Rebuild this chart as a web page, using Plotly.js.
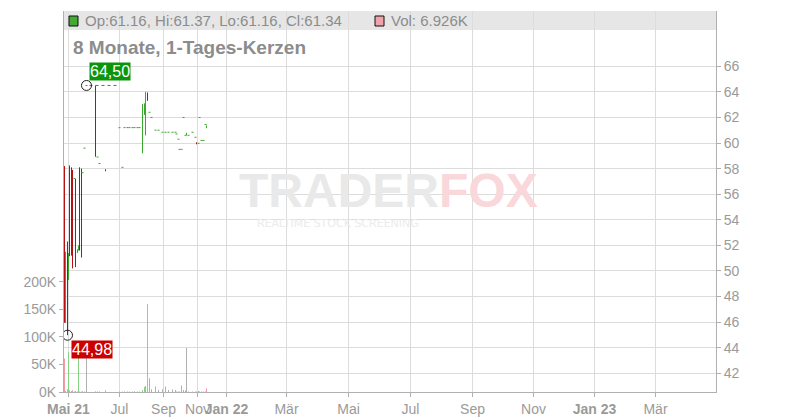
<!DOCTYPE html>
<html><head><meta charset="utf-8">
<script src="https://cdn.plot.ly/plotly-3.0.1.min.js"></script>
<style>html,body{margin:0;padding:0;background:#fff}#chart{width:800px;height:420px}</style>
</head><body><div id="chart"></div>
<script>
// bar slot positions (chart position units along the compressed time axis)
const barPos = [0,1,3,4,5,7,8,10,11,13,14,15,17,18,20,22,31,33,35,41,55,58,60,63,65,68,70,73,75,78,80,81,83,85,87,91,94,98,101,104,108,111,112,114,115,117,119,121,122,124,128,131,132,134,135,137,139,141,142];
const open  = [58.2,45.95,52.3,49.5,58.25,58.1,57.9,57.2,57.2,51.4,51.6,58.1,58.0,57.65,59.58,64.5,64.5,58.88,58.38,57.95,61.18,58.08,61.2,61.2,61.2,61.2,61.2,61.2,61.2,59.2,62.2,60.6,63.9,62.4,62.0,61.0,61.0,60.84,60.84,60.84,60.84,60.84,60.7,60.28,59.5,59.5,61.98,60.6,60.6,60.6,60.84,60.43,60.05,59.98,61.98,60.2,60.2,61.43,61.16];
const high  = [58.2,51.5,52.3,51.4,58.25,58.1,57.9,57.25,57.2,51.7,52.0,58.1,58.0,57.7,59.62,64.5,64.5,58.93,58.42,57.95,61.22,58.12,61.21,61.21,61.21,61.21,61.21,61.21,61.21,63.05,63.1,64.0,63.95,62.41,62.01,61.01,61.01,60.85,60.85,60.85,60.85,60.85,60.71,60.32,59.51,59.51,62.02,60.61,60.8,60.61,60.85,60.47,60.05,59.99,62.02,60.21,60.21,61.47,61.37];
const low   = [45.95,45.95,44.98,49.3,51.15,51.2,50.2,57.2,50.3,51.4,51.6,51.6,51.05,57.65,59.58,64.5,58.93,58.88,58.38,57.8,61.18,58.08,61.2,61.2,61.2,61.2,61.2,61.2,61.2,59.2,62.2,60.6,63.3,62.4,62.0,61.0,61.0,60.84,60.84,60.84,60.84,60.84,60.7,60.28,59.5,59.5,61.98,60.6,60.6,60.6,60.84,60.43,59.9,59.98,61.98,60.2,60.2,61.43,61.16];
const close = [45.95,51.5,45.3,51.4,51.15,51.2,50.2,57.25,50.3,51.7,52.0,51.6,51.05,57.7,59.62,64.5,58.93,58.93,58.42,57.8,61.22,58.12,61.21,61.21,61.21,61.21,61.21,61.21,61.21,63.05,63.1,64.0,63.3,62.41,62.01,61.01,61.01,60.85,60.85,60.85,60.85,60.85,60.71,60.32,59.51,59.51,62.02,60.61,60.61,60.61,60.85,60.47,59.9,59.99,62.02,60.21,60.21,61.47,61.34];
const volume= [61000,2000,5000,72000,3000,2000,3000,1000,2000,1000,70000,1000,1000,1500,1000,61000,1500,1000,1000,3000,1000,1000,1000,1000,1000,1000,1200,1000,1000,3500,9000,11000,160000,25000,5000,10000,3500,5000,10000,3500,4500,3500,1000,1000,1000,12000,3500,2500,80000,1000,1000,1000,1000,2000,1000,1000,1000,1000,6926];

const tickPos = [4, 55, 99, 133, 162, 222, 284, 346, 408, 469, 530, 591];
const tickLabels = ['<b>Mai 21</b>','Jul','Sep','Nov','<b>Jan 22</b>','Mär','Mai','Jul','Sep','Nov','<b>Jan 23</b>','Mär'];
const priceTicks = [42,44,46,48,50,52,54,56,58,60,62,64,66];
const volTicks = [0,50000,100000,150000,200000];
const volTickLabels = ['0K','50K','100K','150K','200K'];

const title = '8 Monate, 1-Tages-Kerzen';

const FONT = 'Liberation Sans, Arial, sans-serif';
const UP = '#38a82a', DOWN = '#b81010';
const PRICE_RANGE = [40.54, 70.32];
const FLAT = 0.08; // candles whose body is under ~1px are drawn as short dashes

// volume colours: flat candle -> grey, otherwise by change vs previous close
const volColors = volume.map((v, i) => {
  if (Math.abs(close[i] - open[i]) < 0.015) return '#b0b0b0';
  const ref = i === 0 ? open[i] : close[i - 1];
  return close[i] >= ref ? '#86d180' : '#f29aa5';
});

// build candle segments from the OHLC arrays
function segs(up, flat) {
  const xs = [], ys = [];
  barPos.forEach((x, i) => {
    const isUp = close[i] >= open[i];
    const isFlat = Math.abs(close[i] - open[i]) < FLAT && (high[i] - low[i]) < FLAT;
    if (isUp !== up || isFlat !== flat) return;
    if (flat) {
      const m = (open[i] + close[i]) / 2;
      xs.push(x - 1, x + 1, null); ys.push(m, m, null);
    } else {
      xs.push(x, x, null); ys.push(low[i], high[i], null);
    }
  });
  return {xs, ys};
}
const candleTraces = [];
[[true,false],[false,false],[true,true],[false,true]].forEach(([up, flat]) => {
  const s = segs(up, flat);
  candleTraces.push({type:'scatter', mode:'lines', x:s.xs, y:s.ys, yaxis:'y',
    line:{color: up ? UP : DOWN, width:1}, hoverinfo:'none', connectgaps:false});
});

const n = close.length - 1;
const fmt = v => v.toFixed(2);
const fmtDe = v => v.toFixed(2).replace('.', ',');

let hiIdx = 0, loIdx = 0;
high.forEach((h, i) => { if (h > high[hiIdx]) hiIdx = i; });
low.forEach((l, i) => { if (l < low[loIdx]) loIdx = i; });

const traces = [
  {type:'bar', x:barPos, y:volume, yaxis:'y2', width:1,
   marker:{color:volColors, line:{width:0}}, hoverinfo:'none'}
].concat(candleTraces);

const pxX = p => (p - 64) / 652;
const pxY = p => (392 - p) / 381;

const axisCommon = {showline:true, linecolor:'#b0b0b0', ticks:'outside', ticklen:4, tickcolor:'#b0b0b0',
  zeroline:false, fixedrange:true, tickfont:{family:FONT, size:14, color:'#9a9a9a'}};

const layout = {
  width:800, height:420,
  margin:{l:64, r:84, t:11, b:28},
  paper_bgcolor:'#fff', plot_bgcolor:'rgba(0,0,0,0)',
  showlegend:false,
  font:{family:FONT, size:14, color:'#999'},
  xaxis:Object.assign({}, axisCommon, {type:'linear', range:[-0.5,651.5], tickvals:tickPos, ticktext:tickLabels, tickangle:0,
    showgrid:true, gridcolor:'#dcdcdc', gridwidth:1}),
  yaxis:Object.assign({}, axisCommon, {side:'right', range:PRICE_RANGE, tickvals:priceTicks,
    showgrid:true, gridcolor:'#dcdcdc'}),
  yaxis2:Object.assign({}, axisCommon, {side:'left', overlaying:'y', range:[0,692000], tickvals:volTicks, ticktext:volTickLabels,
    showgrid:false}),
  shapes:[
    {type:'rect', xref:'paper', yref:'paper', x0:0, x1:1, y0:pxY(30), y1:1, layer:'below',
     fillcolor:'#e6e6e6', line:{width:0}},
    {type:'rect', xref:'paper', yref:'paper', x0:pxX(69), x1:pxX(78), y0:pxY(26), y1:pxY(16),
     fillcolor:'#44aa33', line:{color:'#111', width:1}},
    {type:'rect', xref:'paper', yref:'paper', x0:pxX(375), x1:pxX(384), y0:pxY(26), y1:pxY(16),
     fillcolor:'#f0a3ab', line:{color:'#111', width:1}},
    {type:'line', xref:'x', yref:'y', x0:barPos[hiIdx]+3, x1:barPos[hiIdx]+31, y0:high[hiIdx], y1:high[hiIdx],
     line:{color:'#1f9a1f', width:1, dash:'dot'}},
    {type:'circle', xref:'x', yref:'y', xsizemode:'pixel', ysizemode:'pixel',
     xanchor:barPos[hiIdx], yanchor:high[hiIdx], x0:-5, x1:5, y0:-5, y1:5,
     line:{color:'#222', width:1}, fillcolor:'rgba(0,0,0,0)'},
    {type:'circle', xref:'x', yref:'y', xsizemode:'pixel', ysizemode:'pixel',
     xanchor:barPos[loIdx], yanchor:low[loIdx], x0:-5, x1:5, y0:-5, y1:5,
     line:{color:'#222', width:1}, fillcolor:'rgba(0,0,0,0)'}
  ],
  annotations:[
    {xref:'paper', yref:'paper', x:0.4977, y:pxY(190), xanchor:'center', yanchor:'middle', showarrow:false,
     text:"<b><span style='color:#e9e9e9'>TRADER</span><span style='color:#fad7da'>FOX</span></b>",
     font:{family:FONT, size:48, color:'#e9e9e9'}},
    {xref:'paper', yref:'paper', x:pxX(338), y:pxY(223), xanchor:'center', yanchor:'middle', showarrow:false,
     text:'REALTIME STOCK SCREENING', font:{family:'DejaVu Sans, sans-serif', size:11, color:'#ebebeb'}},
    {xref:'paper', yref:'paper', x:pxX(83), y:pxY(20.5), xanchor:'left', yanchor:'middle', showarrow:false,
     text:'Op:'+fmt(open[n])+', Hi:'+fmt(high[n])+', Lo:'+fmt(low[n])+', Cl:'+fmt(close[n]),
     font:{family:FONT, size:15, color:'#8c8c8c'}},
    {xref:'paper', yref:'paper', x:pxX(389), y:pxY(20.5), xanchor:'left', yanchor:'middle', showarrow:false,
     text:'Vol: '+(volume[n]/1000).toFixed(3)+'K', font:{family:FONT, size:15, color:'#8c8c8c'}},
    {xref:'paper', yref:'paper', x:pxX(71), y:pxY(47.5), xanchor:'left', yanchor:'middle', showarrow:false,
     text:'<b>'+title+'</b>', font:{family:FONT, size:19, color:'#8c8c8c'}},
    {xref:'x', yref:'y', x:barPos[hiIdx], y:high[hiIdx], xanchor:'left', yanchor:'bottom', showarrow:false,
     xshift:2, yshift:4, text:fmtDe(high[hiIdx]), bgcolor:'#0a960a', borderpad:0,
     font:{family:FONT, size:16, color:'#fff'}},
    {xref:'x', yref:'y', x:barPos[loIdx], y:low[loIdx], xanchor:'left', yanchor:'top', showarrow:false,
     xshift:3, yshift:-5, text:fmtDe(low[loIdx]), bgcolor:'#cc0000', borderpad:0,
     font:{family:FONT, size:16, color:'#fff'}}
  ]
};

Plotly.newPlot('chart', traces, layout, {staticPlot:true, displayModeBar:false});
</script></body></html>
